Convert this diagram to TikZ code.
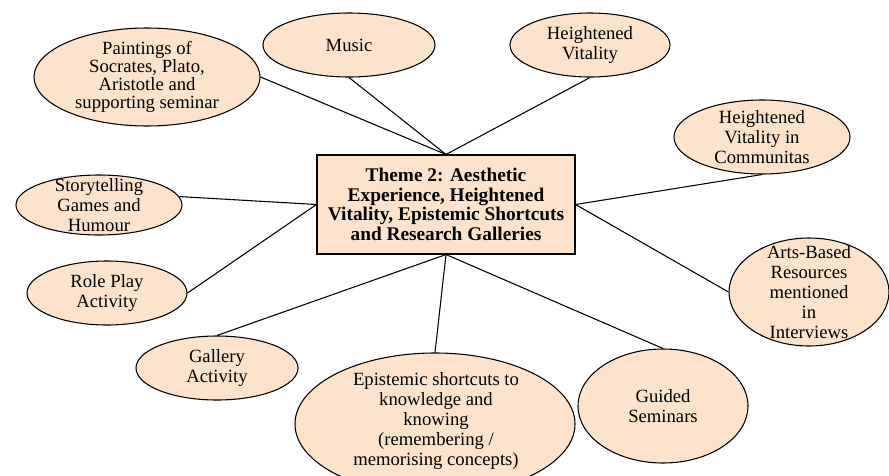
\documentclass[tikz,border=0pt]{standalone}
\usepackage{fontspec}
\setmainfont{Liberation Serif}
\usetikzlibrary{shapes.geometric}
\definecolor{peach}{HTML}{FDE3CC}
\tikzset{
  bub/.style 2 args={ellipse, draw=black, fill=peach, line width=0.8pt, inner sep=0pt,
    minimum width=#1*1.5pt, minimum height=#2*1.5pt},
  txt/.style={align=center, inner sep=0pt, font=\fontsize{14}{15}\selectfont},
  themebox/.style={rectangle, draw=black, fill=peach, line width=0.8pt, align=center,
    minimum width=258*0.75pt, minimum height=99*0.75pt, inner sep=0pt,
    font=\fontsize{14.5}{14.6}\selectfont\bfseries},
  link/.style={draw=black, line width=0.8pt}
}
\begin{document}
\begin{tikzpicture}[x=0.75pt,y=-0.75pt]
\useasboundingbox (0,0) rectangle (889,475);
\clip (0,0) rectangle (889,475);
\fill[white] (0,0) rectangle (889,475);

% central box
\node[themebox] (box) at (446,204.5) {Theme 2: Aesthetic\\Experience, Heightened\\Vitality, Epistemic Shortcuts\\and Research Galleries};

% ellipses
\node[bub={113}{49}, label={[txt, font=\fontsize{14}{13.3}\selectfont]center:Paintings of\\Socrates, Plato,\\Aristotle and\\supporting seminar}] (paint) at (147,77) {};
\node[bub={86}{32}, label={[txt]center:Music}] (music) at (349,45) {};
\node[bub={80}{32}, label={[txt]center:Heightened\\Vitality}] (hv) at (590,45) {};
\node[bub={88}{37}, label={[txt]center:Heightened\\Vitality in\\Communitas}] (comm) at (762,137) {};
\node[bub={83}{30}, label={[txt]center:Storytelling\\Games and\\Humour}] (story) at (99,205) {};
\node[bub={80}{32}, label={[txt]center:Role Play\\Activity}] (role) at (107,293) {};
\node[bub={81}{32}, label={[txt]center:Gallery\\Activity}] (gallery) at (217,368) {};
\node[bub={140}{71}] (epi) at (435,424) {};
\node[txt] (epitext) at (436,421) {Epistemic shortcuts to\\knowledge and\\knowing\\(remembering /\\memorising concepts)};
\node[bub={85}{57}, label={[txt]center:Guided\\Seminars}] (guided) at (663,406) {};
\node[bub={80}{54}, label={[txt]center:Arts-Based\\Resources\\mentioned\\in\\Interviews}] (arts) at (809,292) {};

% connectors
\draw[link] (box.north) -- (paint.east);
\draw[link] (box.north) -- (music.south);
\draw[link] (box.north) -- (hv.south);
\draw[link] (box.east) -- (comm.south);
\draw[link] (box.east) -- (arts.west);
\draw[link] (box.west) -- (story.6);
\draw[link] (box.west) -- (role.east);
\draw[link] (box.south) -- (gallery.north);
\draw[link] (box.south) -- (epi.north);
\draw[link] (box.south) -- (guided.north);
\end{tikzpicture}
\end{document}
